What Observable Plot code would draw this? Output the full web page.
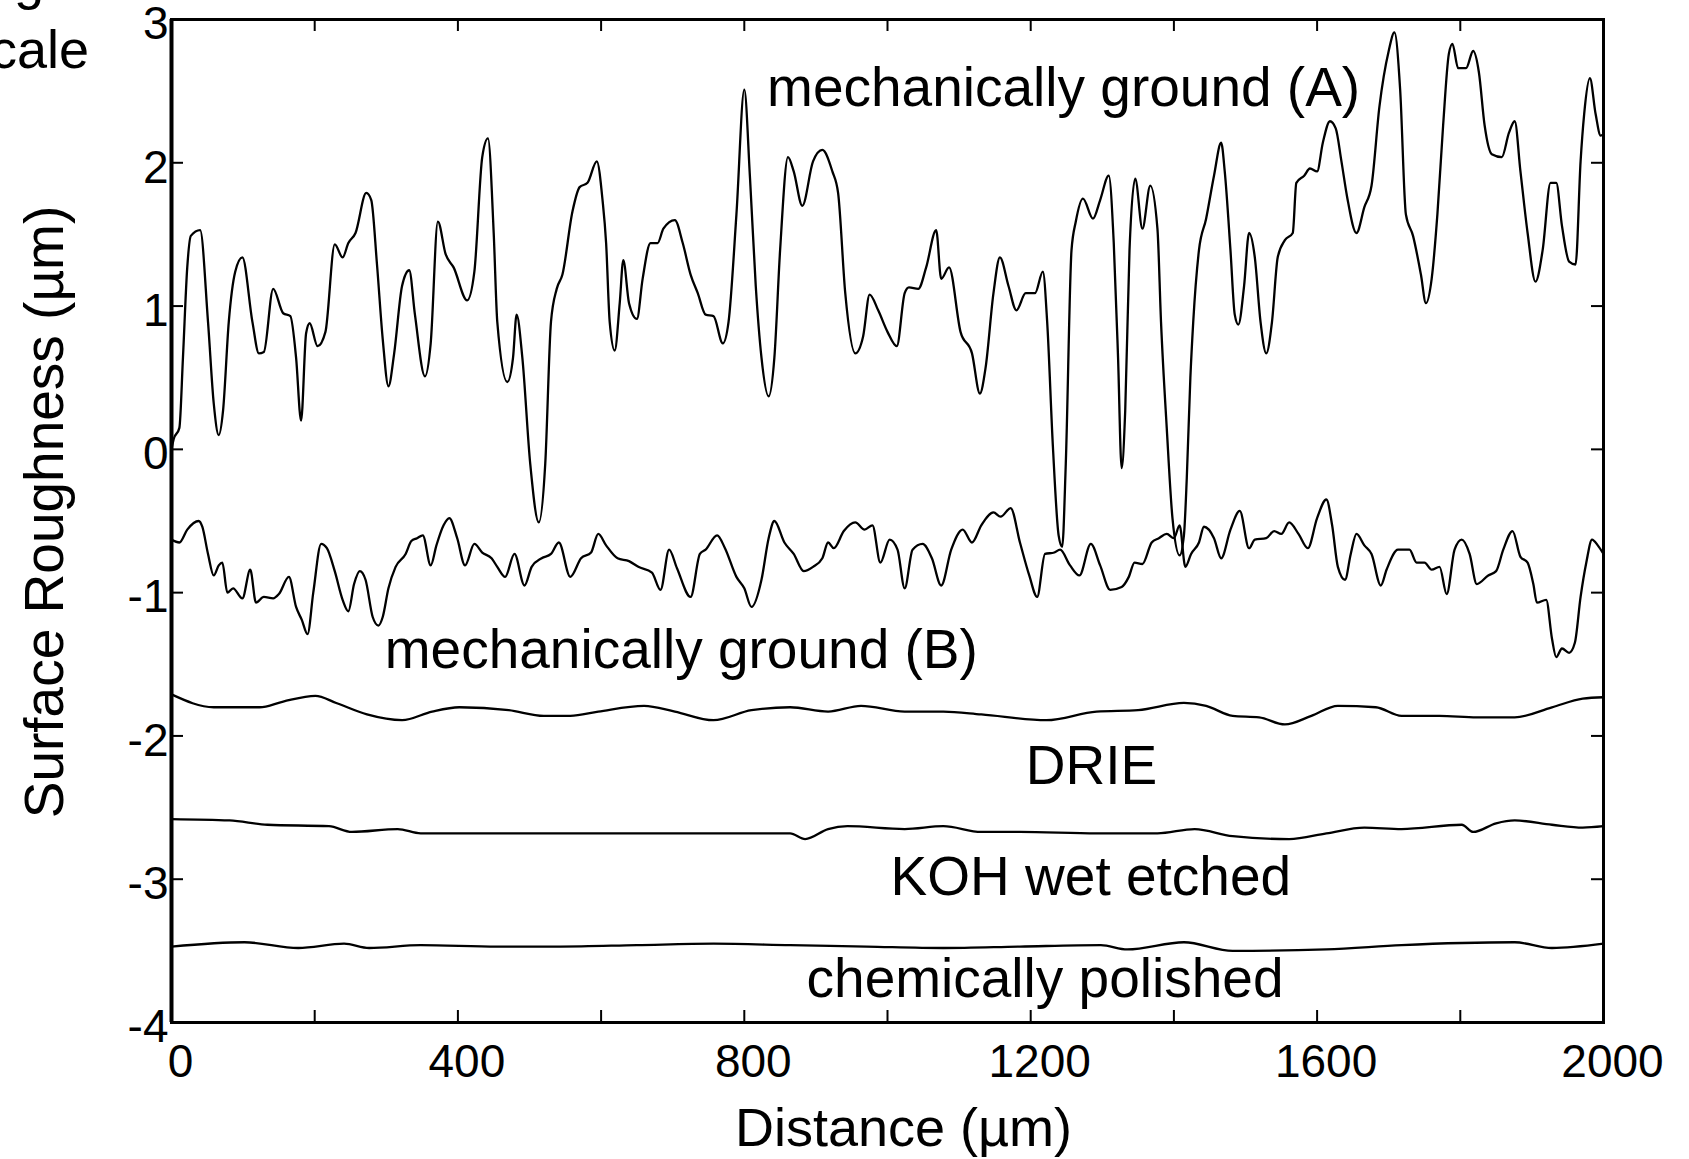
<!DOCTYPE html>
<html>
<head>
<meta charset="utf-8">
<script src="https://cdn.jsdelivr.net/npm/d3@7"></script>
<script src="https://cdn.jsdelivr.net/npm/@observablehq/plot@0.6"></script>
<style>
  html, body { margin: 0; padding: 0; background: #fff; }
  #wrap { position: relative; width: 1689px; height: 1159px; overflow: hidden; background: #fff; }
  #wrap svg { position: absolute; left: 0; top: 0; }
  .clip { position: absolute; font-family: "Liberation Sans", Arial, Helvetica, sans-serif; font-size: 54px; color: #000; line-height: 1; white-space: nowrap; }
</style>
</head>
<body>
<div id="wrap"></div>
<script>
// ---- data ----
const xTickLabels = [0, 400, 800, 1200, 1600, 2000];
const xTicks = [0, 200, 400, 600, 800, 1000, 1200, 1400, 1600, 1800, 2000];
const yTicks = [-4, -3, -2, -1, 0, 1, 2, 3];
const xLabel = "Distance (µm)";
const yLabel = "Surface Roughness (µm)";

const groundA = [[0,0.0],[3,0.07],[11,0.15],[16,0.64],[22,1.27],[27,1.49],[40,1.53],[51,0.89],[59,0.32],[66,0.1],[72,0.27],[80,0.89],[89,1.24],[99,1.34],[113,0.89],[122,0.67],[129,0.68],[142,1.12],[156,0.95],[166,0.93],[174,0.64],[181,0.2],[188,0.81],[193,0.88],[204,0.72],[215,0.82],[228,1.43],[239,1.34],[247,1.44],[257,1.51],[272,1.79],[279,1.74],[287,1.29],[295,0.77],[303,0.44],[311,0.67],[322,1.14],[332,1.25],[340,0.94],[354,0.51],[362,0.74],[372,1.59],[383,1.36],[394,1.27],[413,1.04],[423,1.24],[434,2.04],[442,2.17],[450,1.51],[455,0.89],[469,0.47],[477,0.64],[482,0.94],[490,0.64],[501,-0.1],[513,-0.51],[522,-0.1],[530,0.89],[538,1.12],[546,1.22],[560,1.66],[570,1.83],[581,1.86],[594,2.01],[602,1.74],[607,1.44],[612,0.89],[619,0.69],[626,1.02],[631,1.32],[639,1.02],[650,0.91],[658,1.19],[669,1.44],[679,1.44],[687,1.54],[703,1.6],[714,1.44],[725,1.22],[735,1.09],[746,0.94],[757,0.93],[770,0.74],[778,0.89],[789,1.64],[800,2.51],[808,1.89],[816,1.14],[824,0.64],[834,0.37],[842,0.64],[850,1.39],[861,2.04],[869,1.94],[881,1.7],[896,2.01],[909,2.09],[923,1.94],[931,1.79],[941,1.09],[955,0.67],[966,0.79],[975,1.08],[987,0.97],[1000,0.82],[1013,0.72],[1024,1.09],[1030,1.13],[1043,1.12],[1054,1.27],[1068,1.53],[1075,1.19],[1086,1.27],[1102,0.82],[1118,0.67],[1129,0.39],[1137,0.57],[1148,1.09],[1157,1.34],[1169,1.14],[1180,0.97],[1193,1.09],[1206,1.09],[1217,1.24],[1223,0.89],[1231,0.02],[1239,-0.6],[1244,-0.68],[1249,-0.1],[1257,1.39],[1263,1.59],[1273,1.75],[1287,1.61],[1297,1.74],[1309,1.91],[1316,1.44],[1322,0.64],[1327,-0.13],[1332,0.27],[1338,1.39],[1346,1.89],[1356,1.54],[1367,1.84],[1377,1.54],[1382,0.89],[1390,0.15],[1398,-0.48],[1408,-0.74],[1414,-0.6],[1418,-0.2],[1423,0.5],[1427,0.89],[1435,1.39],[1445,1.61],[1456,1.91],[1466,2.14],[1471,1.94],[1479,1.39],[1485,0.94],[1490,0.87],[1498,1.14],[1505,1.51],[1513,1.34],[1521,0.89],[1529,0.67],[1537,0.89],[1545,1.34],[1555,1.46],[1566,1.51],[1571,1.86],[1582,1.91],[1590,1.96],[1600,1.94],[1608,2.14],[1618,2.29],[1626,2.24],[1634,2.01],[1642,1.76],[1655,1.51],[1666,1.69],[1676,1.84],[1687,2.39],[1700,2.78],[1708,2.91],[1716,2.51],[1724,1.64],[1734,1.49],[1745,1.22],[1752,1.02],[1760,1.19],[1768,1.64],[1776,2.26],[1784,2.76],[1789,2.83],[1797,2.66],[1808,2.66],[1818,2.78],[1826,2.63],[1834,2.26],[1844,2.06],[1858,2.04],[1868,2.21],[1876,2.29],[1884,1.94],[1894,1.51],[1905,1.17],[1915,1.39],[1926,1.86],[1934,1.86],[1942,1.56],[1952,1.31],[1961,1.29],[1968,2.01],[1973,2.34],[1981,2.59],[1989,2.34],[1996,2.19],[2000,2.2]];

const groundB = [[0,-0.63],[11,-0.65],[22,-0.56],[38,-0.5],[43,-0.54],[51,-0.73],[59,-0.88],[66,-0.81],[71,-0.79],[78,-1.0],[86,-0.97],[99,-1.04],[110,-0.84],[118,-1.07],[129,-1.03],[142,-1.04],[150,-1.01],[164,-0.89],[174,-1.1],[182,-1.19],[190,-1.29],[198,-1.0],[209,-0.66],[217,-0.69],[228,-0.85],[239,-1.05],[247,-1.13],[255,-0.94],[263,-0.85],[271,-0.91],[281,-1.17],[289,-1.23],[295,-1.17],[303,-0.97],[313,-0.82],[327,-0.73],[335,-0.64],[343,-0.62],[351,-0.6],[362,-0.81],[370,-0.67],[380,-0.53],[388,-0.48],[399,-0.62],[410,-0.81],[423,-0.66],[434,-0.72],[447,-0.76],[455,-0.82],[466,-0.89],[479,-0.73],[493,-0.95],[503,-0.82],[517,-0.76],[530,-0.73],[541,-0.65],[557,-0.89],[572,-0.76],[586,-0.72],[596,-0.59],[607,-0.67],[623,-0.76],[639,-0.78],[652,-0.82],[671,-0.86],[683,-0.98],[695,-0.7],[706,-0.83],[725,-1.03],[738,-0.73],[746,-0.7],[762,-0.6],[773,-0.69],[789,-0.89],[800,-0.97],[810,-1.1],[824,-0.91],[834,-0.62],[842,-0.5],[856,-0.65],[869,-0.73],[883,-0.85],[896,-0.82],[909,-0.76],[917,-0.65],[925,-0.69],[939,-0.57],[955,-0.51],[968,-0.56],[979,-0.53],[990,-0.79],[1003,-0.63],[1014,-0.7],[1024,-0.97],[1035,-0.7],[1049,-0.66],[1062,-0.76],[1075,-0.95],[1089,-0.7],[1105,-0.56],[1118,-0.65],[1131,-0.53],[1148,-0.44],[1158,-0.47],[1172,-0.41],[1185,-0.65],[1198,-0.88],[1209,-1.03],[1220,-0.73],[1233,-0.72],[1241,-0.7],[1255,-0.81],[1268,-0.88],[1284,-0.66],[1297,-0.81],[1311,-0.98],[1327,-0.96],[1337,-0.89],[1345,-0.79],[1356,-0.8],[1369,-0.65],[1379,-0.62],[1390,-0.59],[1400,-0.62],[1408,-0.53],[1416,-0.82],[1424,-0.73],[1435,-0.65],[1442,-0.54],[1456,-0.62],[1466,-0.76],[1479,-0.56],[1492,-0.43],[1505,-0.69],[1513,-0.63],[1529,-0.62],[1540,-0.57],[1550,-0.59],[1561,-0.51],[1574,-0.59],[1587,-0.69],[1600,-0.48],[1613,-0.35],[1621,-0.53],[1629,-0.82],[1639,-0.91],[1647,-0.73],[1655,-0.59],[1666,-0.67],[1676,-0.73],[1689,-0.95],[1697,-0.84],[1713,-0.7],[1729,-0.7],[1739,-0.79],[1750,-0.79],[1760,-0.84],[1771,-0.82],[1781,-1.01],[1792,-0.7],[1802,-0.63],[1813,-0.73],[1823,-0.94],[1839,-0.88],[1850,-0.85],[1860,-0.7],[1873,-0.57],[1884,-0.75],[1894,-0.79],[1902,-0.94],[1907,-1.07],[1920,-1.05],[1928,-1.32],[1934,-1.45],[1942,-1.39],[1952,-1.42],[1960,-1.35],[1968,-1.03],[1976,-0.79],[1984,-0.63],[1992,-0.67],[2000,-0.73]];

const drie = [[0,-1.71],[59,-1.8],[123,-1.8],[156,-1.76],[201,-1.72],[230,-1.77],[273,-1.85],[322,-1.89],[364,-1.83],[402,-1.8],[471,-1.82],[520,-1.86],[557,-1.86],[596,-1.83],[660,-1.79],[703,-1.83],[757,-1.89],[810,-1.82],[864,-1.8],[917,-1.83],[963,-1.79],[1024,-1.83],[1078,-1.83],[1131,-1.85],[1222,-1.89],[1292,-1.83],[1350,-1.82],[1414,-1.77],[1445,-1.79],[1482,-1.86],[1519,-1.87],[1555,-1.92],[1592,-1.86],[1629,-1.79],[1682,-1.8],[1718,-1.86],[1771,-1.86],[1823,-1.87],[1876,-1.87],[1928,-1.8],[1971,-1.74],[2000,-1.73]];

const kohWet = [[0,-2.58],[81,-2.59],[134,-2.62],[220,-2.63],[252,-2.67],[316,-2.65],[348,-2.68],[455,-2.68],[543,-2.68],[650,-2.68],[757,-2.68],[864,-2.68],[885,-2.72],[917,-2.65],[944,-2.63],[1024,-2.65],[1078,-2.63],[1131,-2.67],[1185,-2.67],[1292,-2.68],[1377,-2.68],[1429,-2.65],[1482,-2.7],[1561,-2.72],[1613,-2.68],[1666,-2.64],[1718,-2.65],[1802,-2.62],[1818,-2.67],[1850,-2.61],[1876,-2.59],[1928,-2.62],[1971,-2.64],[2000,-2.63]];

const chemPolished = [[0,-3.47],[102,-3.44],[177,-3.48],[241,-3.45],[276,-3.48],[348,-3.46],[455,-3.47],[543,-3.47],[650,-3.46],[757,-3.45],[864,-3.46],[971,-3.47],[1078,-3.48],[1185,-3.47],[1298,-3.46],[1335,-3.49],[1414,-3.44],[1482,-3.5],[1613,-3.49],[1718,-3.46],[1876,-3.44],[1928,-3.48],[2000,-3.45]];

const seriesLabels = ["mechanically ground (A)", "mechanically ground (B)", "DRIE", "KOH wet etched", "chemically polished"];
const labelX = [1246, 712, 1285, 1284, 1220];
const labelY = [2.52, -1.40, -2.21, -2.99, -3.70];

// ---- build ----
const W = 1689, H = 1159;
const mL = 171, mR = 86, mT = 19, mB = 137;
const plotW = W - mL - mR, plotH = H - mT - mB;
const tickLen = 12;
const font = '"Liberation Sans", Arial, Helvetica, sans-serif';

const allSeries = [groundA, groundB, drie, kohWet, chemPolished];
const lineRows = allSeries.flatMap((s, k) => s.map(([x, y]) => ({series: k, x, y})));
const labelRows = seriesLabels.map((t, i) => ({text: t, x: labelX[i], y: labelY[i]}));

const chart = Plot.plot({
  width: W, height: H,
  marginLeft: mL, marginRight: mR, marginTop: mT, marginBottom: mB,
  style: {fontFamily: font, color: "#000", background: "#fff", overflow: "visible"},
  x: {domain: [0, 2000]},
  y: {domain: [-4, 3]},
  marks: [
    Plot.line(lineRows, {x: "x", y: "y", z: "series", stroke: "#000", strokeWidth: 2.3, strokeLinejoin: "round", curve: "monotone-x"}),
    Plot.frame({stroke: "#000", strokeWidth: 3}),
    Plot.ruleX([0], {stroke: "#000", strokeWidth: 4}),
    Plot.tickX(xTicks, {x: d => d, stroke: "#000", strokeWidth: 2, insetTop: plotH - tickLen}),
    Plot.tickX(xTicks, {x: d => d, stroke: "#000", strokeWidth: 2, insetBottom: plotH - tickLen}),
    Plot.tickY(yTicks, {y: d => d, stroke: "#000", strokeWidth: 2, insetRight: plotW - tickLen}),
    Plot.tickY(yTicks, {y: d => d, stroke: "#000", strokeWidth: 2, insetLeft: plotW - tickLen}),
    Plot.axisX({ticks: xTickLabels, tickSize: 0, tickPadding: 22, fontSize: 46, dx: 9, label: null, tickFormat: d => String(d)}),
    Plot.axisY({ticks: yTicks, tickSize: 0, tickPadding: 3, fontSize: 46, dy: 5, label: null, tickFormat: d => String(d)}),
    Plot.text(labelRows, {x: "x", y: "y", text: "text", fontSize: 55, fill: "#000", textAnchor: "middle"}),
    Plot.text([xLabel], {text: d => d, frameAnchor: "bottom", textAnchor: "middle", lineAnchor: "middle", dx: 16, dy: 106, fontSize: 54, fill: "#000"}),
    Plot.text([yLabel], {text: d => d, frameAnchor: "left", textAnchor: "middle", lineAnchor: "middle", rotate: -90, dx: -126, dy: -9, fontSize: 55, fill: "#000"})
  ]
});

const wrap = document.getElementById("wrap");
wrap.appendChild(chart);

// cropped slide text at top-left (partially outside the picture)
const g = document.createElement("div");
g.className = "clip";
g.textContent = "g";
g.style.left = "14px";
g.style.top = "-47px";
wrap.appendChild(g);
const c = document.createElement("div");
c.className = "clip";
c.textContent = "cale";
c.style.left = "-10px";
c.style.top = "22px";
wrap.appendChild(c);
</script>
</body>
</html>
